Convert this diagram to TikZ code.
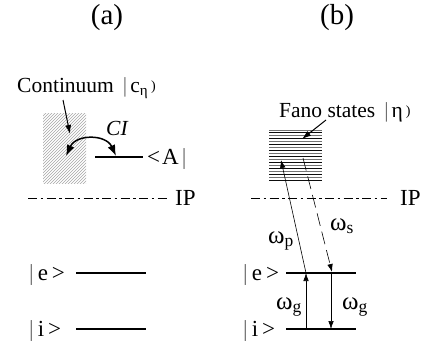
\documentclass[tikz,border=0pt]{standalone}
\usepackage{fontspec}
\setmainfont{Liberation Serif}
\usetikzlibrary{arrows.meta,patterns}
\begin{document}
\begin{tikzpicture}[x=1pt,y=-1pt,
  levelline/.style={line width=2.6pt},
  ipline/.style={line width=1pt,dash pattern=on 9pt off 3.5pt on 2.5pt off 3.5pt},
  tip/.style={-{Latex[length=8pt,width=5.5pt]}},
  thinarr/.style={line width=0.6pt,tip},
  ptr/.style={line width=1pt,-{Latex[length=9pt,width=6pt]}},
  txt/.style={inner sep=0pt,anchor=base west,font=\fontsize{21.5}{25}\selectfont},
  title/.style={inner sep=0pt,anchor=base,font=\fontsize{29}{33}\selectfont},
  ket/.style={inner sep=0pt,anchor=base west,font=\fontsize{23}{27}\selectfont},
  omega/.style={inner sep=0pt,anchor=base west,font=\fontsize{25}{28}\selectfont},
  fanoline/.style={line width=0.9pt}]
\useasboundingbox (0,0) rectangle (422,345);
\newcommand{\thinbar}{{\color{black!60}|}}
\newcommand{\smallclose}{\raisebox{1.5pt}{\fontsize{14}{14}\selectfont )}}
% titles
\node[title] (ta) at (107,25) {(a)};
\node[title] (tb) at (337,25) {(b)};
% ---------- panel (a) ----------
\node[txt] (cont) at (17,92) {Continuum\hspace{9pt}\thinbar\hspace{3pt}c\textsubscript{η}\hspace{3pt}\smallclose};
\fill[pattern=north east lines,pattern color=black!35] (43,113) rectangle (86,183);
\coordinate (contbox) at (70,134);
\coordinate (conttail) at (63,100);
\draw[ptr] (conttail) -- (contbox);
\coordinate (A1) at (95,157);
\coordinate (A2) at (143,157);
\draw[levelline] (A1) -- (A2);
\node[ket] (Alab) at (147,164) {<\hspace{2pt}A\hspace{3pt}\thinbar};
\coordinate (arcL) at (66,156);
\coordinate (arcR) at (116,156);
\draw[line width=1.5pt,{Latex[length=11pt,width=8pt]}-{Latex[length=11pt,width=8pt]}]
  (arcL) .. controls (76,134) and (106,134) .. (arcR);
\node[txt,font=\fontsize{21.5}{25}\selectfont\itshape] (CI) at (106,135) {CI};
\coordinate (ipa1) at (28,198);
\coordinate (ipa2) at (167,198);
\draw[ipline] (ipa1) -- (ipa2);
\node[ket] (IPa) at (175,205) {IP};
\node[ket] (ea) at (29,280) {\thinbar\hspace{4pt}e\hspace{4pt}>};
\coordinate (ea1) at (76,273);
\coordinate (ea2) at (146,273);
\draw[levelline] (ea1) -- (ea2);
\node[ket] (ia) at (29,336) {\thinbar\hspace{4pt}i\hspace{4pt}>};
\coordinate (ia1) at (76,329);
\coordinate (ia2) at (146,329);
\draw[levelline] (ia1) -- (ia2);
% ---------- panel (b) ----------
\node[txt] (fano) at (279,117) {Fano states\hspace{9pt}\thinbar\hspace{3pt}η\hspace{3pt}\smallclose};
\foreach \i in {0,...,17}{
  \pgfmathsetmacro{\yy}{130+\i*2.94}
  \pgfmathsetmacro{\cc}{mod(\i,2)==0 ? 55 : 95}
  \draw[fanoline,black!\cc] (269,\yy) -- (322,\yy);
}
\coordinate (fanotail) at (326,120);
\coordinate (fanohead) at (302,139);
\draw[ptr] (fanotail) -- (fanohead);
\coordinate (ipb1) at (251,198);
\coordinate (ipb2) at (387,198);
\draw[ipline] (ipb1) -- (ipb2);
\node[ket] (IPb) at (400,205) {IP};
\node[ket] (eb) at (243,280) {\thinbar\hspace{4pt}e\hspace{4pt}>};
\coordinate (eb1) at (286,273);
\coordinate (eb2) at (356,273);
\draw[levelline] (eb1) -- (eb2);
\node[ket] (ib) at (243,336) {\thinbar\hspace{4pt}i\hspace{4pt}>};
\coordinate (ib1) at (286,329);
\coordinate (ib2) at (356,329);
\draw[levelline] (ib1) -- (ib2);
% transitions
\coordinate (pbot) at (306,273);
\coordinate (ptop) at (281,160);
\draw[thinarr] (pbot) -- (ptop);
\coordinate (stop) at (303,158);
\coordinate (sbot) at (332,272);
\draw[thinarr,dash pattern=on 13pt off 6pt] (stop) -- (sbot);
\coordinate (gu1) at (306,329);
\coordinate (gu2) at (306,273);
\draw[thinarr] (gu1) -- (gu2);
\coordinate (gd1) at (331,273);
\coordinate (gd2) at (331,329);
\draw[thinarr] (gd1) -- (gd2);
\node[omega] (wp) at (268,243) {ω\textsubscript{p}};
\node[omega] (ws) at (330,230) {ω\textsubscript{s}};
\node[omega] (wg1) at (276,309) {ω\textsubscript{g}};
\node[omega] (wg2) at (342,309) {ω\textsubscript{g}};
\end{tikzpicture}
\end{document}
